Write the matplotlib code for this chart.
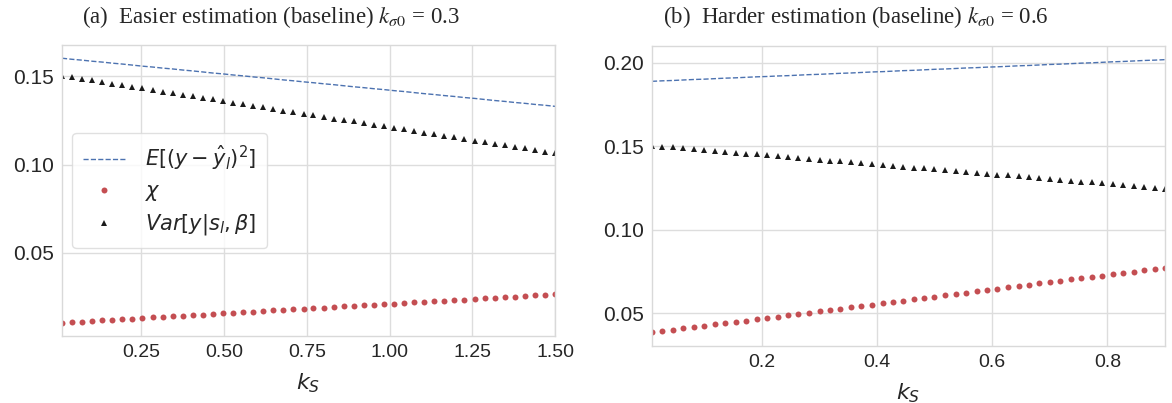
import matplotlib
matplotlib.use("Agg")
import matplotlib.pyplot as plt
import seaborn as sns

# ---------------- data ----------------
ks_a = [0.010, 0.040, 0.071, 0.101, 0.132, 0.162, 0.192, 0.223, 0.253, 0.284,
        0.314, 0.345, 0.375, 0.405, 0.436, 0.466, 0.497, 0.527, 0.557, 0.588,
        0.618, 0.649, 0.679, 0.709, 0.740, 0.770, 0.801, 0.831, 0.861, 0.892,
        0.922, 0.953, 0.983, 1.014, 1.044, 1.074, 1.105, 1.135, 1.166, 1.196,
        1.226, 1.257, 1.287, 1.318, 1.348, 1.378, 1.409, 1.439, 1.470, 1.500]
mse_a = [0.1603, 0.1597, 0.1592, 0.1586, 0.1581, 0.1575, 0.1570, 0.1564, 0.1558, 0.1553,
         0.1547, 0.1542, 0.1536, 0.1531, 0.1525, 0.1519, 0.1514, 0.1508, 0.1503, 0.1497,
         0.1492, 0.1486, 0.1480, 0.1475, 0.1469, 0.1464, 0.1458, 0.1453, 0.1447, 0.1441,
         0.1436, 0.1430, 0.1425, 0.1419, 0.1414, 0.1408, 0.1402, 0.1397, 0.1391, 0.1386,
         0.1380, 0.1375, 0.1369, 0.1363, 0.1358, 0.1352, 0.1347, 0.1341, 0.1336, 0.1330]
chi_a = [0.0102, 0.0105, 0.0109, 0.0112, 0.0115, 0.0119, 0.0122, 0.0125, 0.0128, 0.0132,
         0.0135, 0.0138, 0.0142, 0.0145, 0.0148, 0.0152, 0.0155, 0.0158, 0.0162, 0.0165,
         0.0168, 0.0172, 0.0175, 0.0178, 0.0181, 0.0185, 0.0188, 0.0191, 0.0195, 0.0198,
         0.0201, 0.0205, 0.0208, 0.0211, 0.0215, 0.0218, 0.0221, 0.0224, 0.0228, 0.0231,
         0.0234, 0.0238, 0.0241, 0.0244, 0.0248, 0.0251, 0.0254, 0.0258, 0.0261, 0.0264]
var_a = [0.1504, 0.1495, 0.1486, 0.1477, 0.1468, 0.1459, 0.1450, 0.1441, 0.1432, 0.1423,
         0.1414, 0.1405, 0.1396, 0.1387, 0.1378, 0.1369, 0.1360, 0.1351, 0.1342, 0.1333,
         0.1324, 0.1315, 0.1306, 0.1297, 0.1288, 0.1279, 0.1270, 0.1261, 0.1252, 0.1244,
         0.1235, 0.1226, 0.1217, 0.1208, 0.1199, 0.1190, 0.1181, 0.1172, 0.1163, 0.1154,
         0.1145, 0.1136, 0.1127, 0.1118, 0.1109, 0.1100, 0.1091, 0.1082, 0.1073, 0.1064]

ks_b = [0.010, 0.028, 0.046, 0.064, 0.083, 0.101, 0.119, 0.137, 0.155, 0.173,
        0.192, 0.210, 0.228, 0.246, 0.264, 0.282, 0.301, 0.319, 0.337, 0.355,
        0.373, 0.391, 0.410, 0.428, 0.446, 0.464, 0.482, 0.500, 0.519, 0.537,
        0.555, 0.573, 0.591, 0.609, 0.628, 0.646, 0.664, 0.682, 0.700, 0.718,
        0.737, 0.755, 0.773, 0.791, 0.809, 0.827, 0.846, 0.864, 0.882, 0.900]
mse_b = [0.1890, 0.1893, 0.1895, 0.1898, 0.1901, 0.1903, 0.1906, 0.1909, 0.1911, 0.1914,
         0.1917, 0.1919, 0.1922, 0.1924, 0.1927, 0.1930, 0.1932, 0.1935, 0.1938, 0.1940,
         0.1943, 0.1946, 0.1948, 0.1951, 0.1954, 0.1956, 0.1959, 0.1962, 0.1964, 0.1967,
         0.1970, 0.1972, 0.1975, 0.1977, 0.1980, 0.1983, 0.1985, 0.1988, 0.1991, 0.1993,
         0.1996, 0.1999, 0.2001, 0.2004, 0.2007, 0.2009, 0.2012, 0.2015, 0.2017, 0.2020]
chi_b = [0.0385, 0.0393, 0.0401, 0.0409, 0.0417, 0.0425, 0.0433, 0.0440, 0.0448, 0.0456,
         0.0464, 0.0472, 0.0480, 0.0488, 0.0496, 0.0504, 0.0512, 0.0520, 0.0528, 0.0535,
         0.0543, 0.0551, 0.0559, 0.0567, 0.0575, 0.0583, 0.0591, 0.0599, 0.0607, 0.0615,
         0.0623, 0.0630, 0.0638, 0.0646, 0.0654, 0.0662, 0.0670, 0.0678, 0.0686, 0.0694,
         0.0702, 0.0710, 0.0718, 0.0725, 0.0733, 0.0741, 0.0749, 0.0757, 0.0765, 0.0773]
var_b = [0.1504, 0.1499, 0.1494, 0.1488, 0.1483, 0.1478, 0.1473, 0.1467, 0.1462, 0.1457,
         0.1452, 0.1446, 0.1441, 0.1436, 0.1431, 0.1425, 0.1420, 0.1415, 0.1410, 0.1404,
         0.1399, 0.1394, 0.1389, 0.1383, 0.1378, 0.1373, 0.1368, 0.1362, 0.1357, 0.1352,
         0.1347, 0.1342, 0.1336, 0.1331, 0.1326, 0.1321, 0.1315, 0.1310, 0.1305, 0.1300,
         0.1294, 0.1289, 0.1284, 0.1279, 0.1273, 0.1268, 0.1263, 0.1258, 0.1252, 0.1247]

xticks_a = [0.25, 0.50, 0.75, 1.00, 1.25, 1.50]
xticklabels_a = ["0.25", "0.50", "0.75", "1.00", "1.25", "1.50"]
yticks_a = [0.05, 0.10, 0.15]
yticklabels_a = ["0.05", "0.10", "0.15"]
xticks_b = [0.2, 0.4, 0.6, 0.8]
xticklabels_b = ["0.2", "0.4", "0.6", "0.8"]
yticks_b = [0.05, 0.10, 0.15, 0.20]
yticklabels_b = ["0.05", "0.10", "0.15", "0.20"]

labels = [r"$E[(y-\hat{y}_l)^2]$", r"$\chi$", r"$Var[y|s_l,\beta]$"]
title_a = r"(a)  Easier estimation (baseline) $k_{\sigma 0}$ = 0.3"
title_b = r"(b)  Harder estimation (baseline) $k_{\sigma 0}$ = 0.6"
xlabel = r"$k_S$"

# ---------------- style ----------------
sns.set_style("whitegrid")
plt.rcParams["font.family"] = ["Liberation Sans", "DejaVu Sans"]
plt.rcParams["mathtext.fontset"] = "dejavusans"

BLUE = "#4C72B0"
RED = "#C44E52"

fig = plt.figure(figsize=(11.72, 4.03), dpi=100)
ax_a = fig.add_axes([62 / 1172, 1 - 336 / 403, 493 / 1172, 291 / 403])
ax_b = fig.add_axes([652 / 1172, 1 - 346 / 403, 513 / 1172, 300 / 403])

for ax, ks, mse, chi, var in [(ax_a, ks_a, mse_a, chi_a, var_a),
                              (ax_b, ks_b, mse_b, chi_b, var_b)]:
    ax.plot(ks, mse, "--", color=BLUE, lw=1.0, label=labels[0])
    ax.plot(ks, chi, "o", color=RED, ms=4.3, mew=0, label=labels[1])
    ax.plot(ks, var, "^", color="#1a1a1a", ms=5.0, mew=0, label=labels[2])
    ax.set_xmargin(0)
    ax.set_ymargin(0.05)
    for s in ax.spines.values():
        s.set_color("#d9d9d9")
        s.set_linewidth(1.0)
    ax.grid(color="#dddddd", lw=1.0)
    ax.tick_params(axis="x", labelsize=14, colors="#262626", length=0, pad=6)
    ax.tick_params(axis="y", labelsize=15, colors="#262626", length=0, pad=6)
    ax.set_xlabel(xlabel, fontsize=16, color="#262626", labelpad=7)

ax_a.set_xticks(xticks_a, xticklabels_a)
ax_a.set_yticks(yticks_a, yticklabels_a)
ax_b.set_xticks(xticks_b, xticklabels_b)
ax_b.set_yticks(yticks_b, yticklabels_b)
ax_a.autoscale_view()
ax_b.autoscale_view()

leg = ax_a.legend(loc="center left", bbox_to_anchor=(0.0, 0.5), fontsize=15,
                  numpoints=1, frameon=True, borderpad=0.5, labelspacing=0.45,
                  handlelength=2.0, handletextpad=1.0)
leg.get_frame().set_edgecolor("#d9d9d9")
leg.get_frame().set_alpha(0.8)

fig.text(271 / 1172, 1 - 17 / 403, title_a, ha="center", va="center", fontsize=16.5,
         family=["Liberation Serif", "DejaVu Serif"], math_fontfamily="stix")
fig.text(856 / 1172, 1 - 17 / 403, title_b, ha="center", va="center", fontsize=16.5,
         family=["Liberation Serif", "DejaVu Serif"], math_fontfamily="stix")

fig.savefig("out.png", dpi=100)
